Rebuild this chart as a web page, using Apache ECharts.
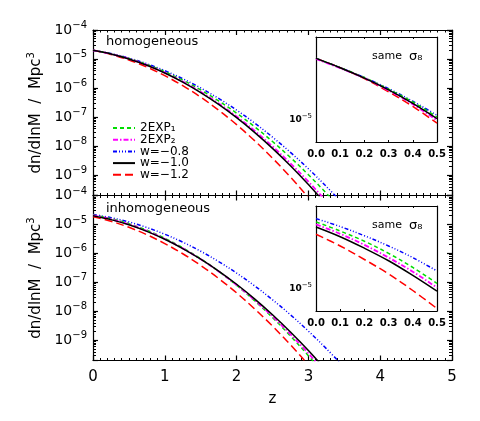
<!DOCTYPE html>
<html><head><meta charset="utf-8">
<script src="https://cdn.jsdelivr.net/npm/echarts@6/dist/echarts.min.js"></script>
<style>html,body{margin:0;padding:0;background:#fff}#c{width:480px;height:421px}</style>
</head><body><div id="c"></div>
<script>
// ---------------- data ----------------
const zMain = [0,0.25,0.5,0.75,1,1.25,1.5,1.75,2,2.25,2.5,2.75,3,3.25,3.5];
// homogeneous panel
const topExp1 = [2.00e-5,1.52e-5,1.04e-5,6.50e-6,3.66e-6,1.87e-6,8.64e-7,3.61e-7,1.37e-7,4.69e-8,1.45e-8,4.08e-9,1.04e-9,2.39e-10,4.97e-11];
const topExp2 = [2.00e-5,1.50e-5,1.02e-5,6.19e-6,3.40e-6,1.67e-6,7.40e-7,2.94e-7,1.05e-7,3.39e-8,9.82e-9,2.55e-9,5.97e-10,1.26e-10,2.38e-11];
const topW08  = [2.00e-5,1.54e-5,1.08e-5,6.87e-6,3.98e-6,2.10e-6,1.01e-6,4.39e-7,1.74e-7,6.27e-8,2.05e-8,6.12e-9,1.66e-9,4.09e-10,9.17e-11];
const topW10  = [2.00e-5,1.50e-5,1.01e-5,6.11e-6,3.31e-6,1.61e-6,7.00e-7,2.73e-7,9.55e-8,2.99e-8,8.41e-9,2.12e-9,4.79e-10,9.68e-11,1.76e-11];
const topW12  = [2.00e-5,1.44e-5,9.28e-6,5.30e-6,2.69e-6,1.21e-6,4.87e-7,1.73e-7,5.50e-8,1.55e-8,3.87e-9,8.59e-10,1.70e-10,2.98e-11,4.65e-12];
// inhomogeneous panel
const botExp1 = [2.13e-5,1.60e-5,1.06e-5,6.31e-6,3.33e-6,1.56e-6,6.50e-7,2.42e-7,7.96e-8,2.33e-8,6.08e-9,1.41e-9,2.91e-10,5.33e-11,8.69e-12];
const botExp2 = [2.07e-5,1.53e-5,1.01e-5,5.96e-6,3.15e-6,1.49e-6,6.31e-7,2.39e-7,8.08e-8,2.45e-8,6.64e-9,1.61e-9,3.49e-10,6.78e-11,1.18e-11];
const botW08  = [2.21e-5,1.72e-5,1.22e-5,7.85e-6,4.60e-6,2.45e-6,1.19e-6,5.22e-7,2.09e-7,7.60e-8,2.51e-8,7.57e-9,2.07e-9,5.14e-10,1.16e-10];
const botW10  = [2.01e-5,1.47e-5,9.70e-6,5.75e-6,3.07e-6,1.47e-6,6.34e-7,2.46e-7,8.59e-8,2.69e-8,7.60e-9,1.93e-9,4.41e-10,9.04e-11,1.67e-11];
const botW12  = [1.85e-5,1.29e-5,7.97e-6,4.43e-6,2.19e-6,9.72e-7,3.85e-7,1.36e-7,4.32e-8,1.22e-8,3.09e-9,6.98e-10,1.41e-10,2.55e-11,4.11e-12];
// insets ("same sigma8")
const zInset = [0,0.1,0.2,0.3,0.4,0.5];
const insTopExp1 = [2.00e-5,1.80e-5,1.61e-5,1.41e-5,1.22e-5,1.03e-5];
const insTopExp2 = [1.99e-5,1.79e-5,1.60e-5,1.39e-5,1.19e-5,0.99e-5];
const insTopW08  = [2.00e-5,1.80e-5,1.61e-5,1.42e-5,1.23e-5,1.05e-5];
const insTopW10  = [2.00e-5,1.80e-5,1.60e-5,1.40e-5,1.20e-5,1.01e-5];
const insTopW12  = [2.00e-5,1.80e-5,1.59e-5,1.37e-5,1.16e-5,0.96e-5];
const insBotExp1 = [2.13e-5,1.92e-5,1.71e-5,1.49e-5,1.27e-5,1.06e-5];
const insBotExp2 = [2.07e-5,1.86e-5,1.64e-5,1.42e-5,1.21e-5,1.01e-5];
const insBotW08  = [2.21e-5,2.02e-5,1.82e-5,1.62e-5,1.42e-5,1.22e-5];
const insBotW10  = [2.01e-5,1.80e-5,1.58e-5,1.37e-5,1.16e-5,0.970e-5];
const insBotW12  = [1.85e-5,1.62e-5,1.39e-5,1.18e-5,0.978e-5,0.797e-5];

const seriesNames = ['2EXP1','2EXP2','w=\u22120.8','w=\u22121.0','w=\u22121.2'];
const legendLabels = ['2EXP\u2081','2EXP\u2082','w=\u22120.8','w=\u22121.0','w=\u22121.2'];
const xTickLabels = ['0','1','2','3','4','5'];
const insetTickLabels = ['0.0','0.1','0.2','0.3','0.4','0.5'];

// ---------------- styling ----------------
const FONT = 'DejaVu Sans';
const lineStyles = {
  '2EXP1':        {color:'#00dd00', type:[4,3], width:1.5},
  '2EXP2':        {color:'#ff00ff', type:[5,2,1.5,2], width:1.8},
  'w=\u22120.8':  {color:'#0000ff', type:[4,2,1,2,1,2,1,2], width:1.5},
  'w=\u22121.0':  {color:'#000000', type:'solid', width:1.5},
  'w=\u22121.2':  {color:'#ff0000', type:[8,4], width:1.5}
};
const drawOrder = [4,2,0,1,3]; // red, blue, green, magenta, black on top

function supLabel(v){
  const l = Math.log10(v), e = Math.round(l);
  if (Math.abs(l - e) > 1e-6) return '';
  return '{b|10}{e|' + (e < 0 ? '\u2212' : '') + Math.abs(e) + '}';
}
const richMain = {b:{fontFamily:FONT,fontSize:14,color:'#000'}, e:{fontFamily:FONT,fontSize:10,color:'#000',verticalAlign:'bottom',padding:[0,0,9,0]}};
const richInset = {b:{fontFamily:FONT,fontSize:9,color:'#000',fontWeight:'bold'}, e:{fontFamily:FONT,fontSize:7,color:'#000',verticalAlign:'bottom',padding:[0,0,6,0]}};

const grids = [
  {left:93, top:30, width:359, height:165.5},
  {left:93, top:195.5, width:359, height:165},
  {left:316, top:37, width:121, height:105, show:true, backgroundColor:'#fff', borderWidth:0},
  {left:316, top:206, width:121, height:105, show:true, backgroundColor:'#fff', borderWidth:0}
];
const black = {color:'#000', width:1.2};

const xAxes = [], yAxes = [];
function mainX(g, pos, labels, extra){
  return Object.assign({type:'value', gridIndex:g, position:pos, min:0, max:5, interval:1,
    axisLine:{show:true, onZero:false, lineStyle:black},
    axisTick:{show:true, inside:true, length:5, lineStyle:black},
    minorTick:{show:true, splitNumber:10, length:2.5, lineStyle:{color:'#000', width:1}},
    splitLine:{show:false},
    axisLabel:{show:labels, margin:9, fontFamily:FONT, fontSize:15, color:'#000',
      formatter:(v)=>xTickLabels[Math.round(v)]}}, extra||{});
}
function mainY(g, pos, labels, extra){
  return Object.assign({type:'log', logBase:10, gridIndex:g, position:pos, min:2e-10, max:1e-4,
    axisLine:{show:true, onZero:false, lineStyle:black},
    axisTick:{show:true, inside:true, length:5, lineStyle:black},
    minorTick:{show:true, splitNumber:9, length:3, lineStyle:{color:'#000', width:1}},
    splitLine:{show:false},
    axisLabel:{show:labels, margin:6, formatter:supLabel, rich:richMain}}, extra||{});
}
function insetX(g, pos, labels){
  return {type:'value', gridIndex:g, position:pos, min:0, max:0.5, interval:0.1,
    axisLine:{show:true, onZero:false, lineStyle:black},
    axisTick:{show:true, inside:true, length:2, lineStyle:{color:'#000', width:1}},
    splitLine:{show:false},
    axisLabel:{show:labels, margin:7, fontFamily:FONT, fontSize:10, fontWeight:'bold', color:'#000',
      formatter:(v)=>insetTickLabels[Math.round(v*10)]}};
}
function insetY(g, pos, labels){
  return {type:'log', logBase:10, gridIndex:g, position:pos, min:7.75e-6, max:2.55e-5,
    axisLine:{show:true, onZero:false, lineStyle:black},
    axisTick:{show:false},
    splitLine:{show:false},
    axisLabel:{show:labels, margin:4, formatter:supLabel, rich:richInset}};
}
const yNameRich = {n:{fontFamily:FONT,fontSize:15,color:'#000'}, s:{fontFamily:FONT,fontSize:10,color:'#000',verticalAlign:'bottom',padding:[0,0,9,0]}};
const yName = '{n|dn/dlnM  /  Mpc}{s|3}';

xAxes.push(mainX(0,'bottom',false), mainX(0,'top',false),
           mainX(1,'bottom',true,{name:'z', nameLocation:'middle', nameGap:31, nameTextStyle:{fontFamily:FONT,fontSize:15,color:'#000'}}),
           mainX(1,'top',false),
           insetX(2,'bottom',true), insetX(2,'top',false),
           insetX(3,'bottom',true), insetX(3,'top',false));
yAxes.push(mainY(0,'left',true,{name:yName, nameLocation:'middle', nameGap:45, nameRotate:90, nameTextStyle:{rich:yNameRich}}),
           mainY(0,'right',false),
           mainY(1,'left',true,{name:yName, nameLocation:'middle', nameGap:45, nameRotate:90, nameTextStyle:{rich:yNameRich}}),
           mainY(1,'right',false),
           insetY(2,'left',true), insetY(2,'right',false),
           insetY(3,'left',true), insetY(3,'right',false));

const panels = [
  {axis:0, z:zMain,  sets:[topExp1,topExp2,topW08,topW10,topW12]},
  {axis:2, z:zMain,  sets:[botExp1,botExp2,botW08,botW10,botW12]},
  {axis:4, z:zInset, sets:[insTopExp1,insTopExp2,insTopW08,insTopW10,insTopW12]},
  {axis:6, z:zInset, sets:[insBotExp1,insBotExp2,insBotW08,insBotW10,insBotW12]}
];
const series = [];
panels.forEach(p => {
  drawOrder.forEach(i => {
    const name = seriesNames[i];
    series.push({type:'line', name:name, xAxisIndex:p.axis, yAxisIndex:p.axis,
      data:p.z.map((z,k)=>[z, p.sets[i][k]]),
      showSymbol:false, symbol:'none', smooth:0.35, clip:true, silent:true,
      itemStyle:{color:lineStyles[name].color},
      lineStyle:lineStyles[name]});
  });
});

const option = {
  animation:false,
  backgroundColor:'#fff',
  grid:grids, xAxis:xAxes, yAxis:yAxes, series:series,
  legend:{data:seriesNames, orient:'vertical', left:107, top:117, itemWidth:22, itemHeight:10, itemGap:-0.3,
    selectedMode:false, itemStyle:{opacity:0},
    formatter:(n)=> legendLabels[seriesNames.indexOf(n)],
    textStyle:{fontFamily:FONT, fontSize:12, color:'#000', lineHeight:11.5}},
  graphic:[
    {type:'text', left:106, top:35, style:{text:'homogeneous', font:'13px "DejaVu Sans"', fill:'#000'}},
    {type:'text', left:106, top:202, style:{text:'inhomogeneous', font:'13px "DejaVu Sans"', fill:'#000'}},
    {type:'text', left:372, top:50, style:{text:'{a|same  }{g|\u03c3\u2088}', rich:{a:{fontFamily:FONT,fontSize:11,fill:'#000'}, g:{fontFamily:FONT,fontSize:13,fill:'#000'}}}},
    {type:'text', left:372, top:219, style:{text:'{a|same  }{g|\u03c3\u2088}', rich:{a:{fontFamily:FONT,fontSize:11,fill:'#000'}, g:{fontFamily:FONT,fontSize:13,fill:'#000'}}}}
  ]
};
const chart = echarts.init(document.getElementById('c'), null, {renderer:'canvas'});
chart.setOption(option);
</script></body></html>
